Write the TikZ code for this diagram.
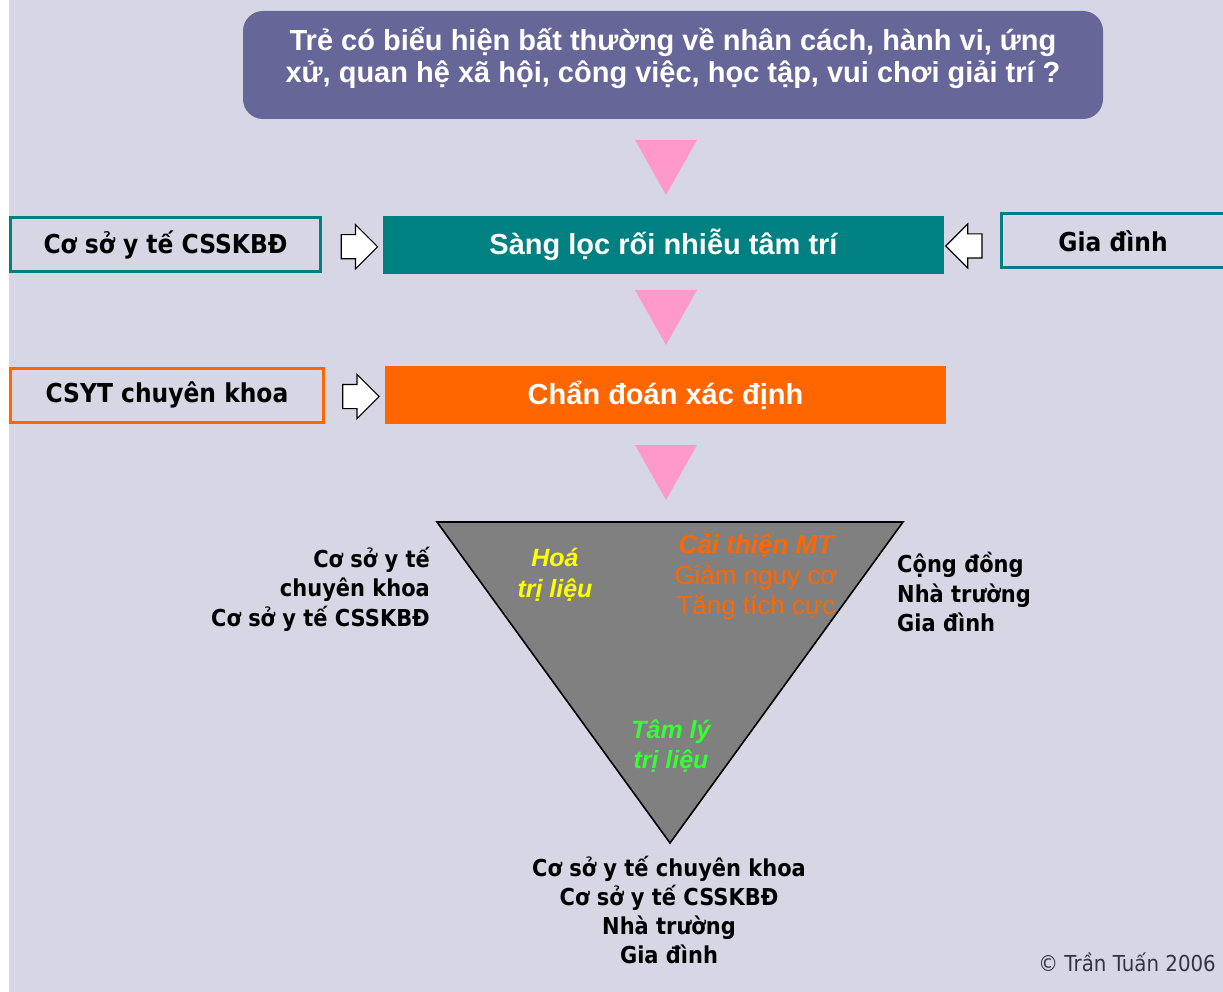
\documentclass[tikz,border=0pt]{standalone}
\usepackage{fontspec}
\setmainfont{Liberation Sans}
\newfontfamily\tah{DejaVu Sans}[FakeStretch=0.9]
\usetikzlibrary{shapes.arrows,calc}
\definecolor{bg}{HTML}{D6D6E4}
\definecolor{slate}{HTML}{666699}
\definecolor{tealc}{HTML}{008080}
\definecolor{orangec}{HTML}{FF6600}
\definecolor{pinkc}{HTML}{FF99CC}
\definecolor{grayc}{HTML}{808080}
\definecolor{yellowc}{HTML}{FFFF00}
\definecolor{greenc}{HTML}{33FF33}
\definecolor{copyc}{HTML}{333344}
\tikzset{
  topbox/.style={fill=slate, rounded corners=20pt, minimum width=860pt, minimum height=108pt, inner sep=0pt},
  toptext/.style={text=white, align=center, font=\bfseries\fontsize{29}{32}\selectfont},
  bar/.style={minimum width=561pt, minimum height=58pt, inner sep=0pt, text=white, font=\bfseries\fontsize{29}{32}\selectfont},
  sidebox/.style={line width=3pt, minimum height=54pt, inner sep=0pt, font=\tah\bfseries\fontsize{26}{30}\selectfont},
  harrow/.style={single arrow, draw=black, fill=white, line width=1.2pt, minimum height=33pt, inner sep=11.5pt, single arrow head extend=10pt, single arrow head indent=0pt},
  lbl/.style={font=\tah\bfseries\fontsize{23.3}{29.5}\selectfont, inner sep=0pt},
  intxt/.style={inner sep=0pt, align=center}
}
\begin{document}
\begin{tikzpicture}[x=1pt,y=-1pt]
\useasboundingbox (0,0) rectangle (1223,992);
\fill[white] (0,0) rectangle (9,992);
\fill[bg] (9,0) rectangle (1223,992);

% top question box
\node[topbox] (q) at (673,65) {};
\node[toptext] (qt) at (673,58) {Trẻ có biểu hiện bất thường về nhân cách, hành vi, ứng\\xử, quan hệ xã hội, công việc, học tập, vui chơi giải trí ?};

% screening row
\node[bar, fill=tealc] (s) at (663.5,245) {Sàng lọc rối nhiễu tâm trí};
\node[sidebox, draw=tealc, minimum width=310pt] (c1) at (165.5,244.5) {Cơ sở y tế CSSKBĐ};
\node[sidebox, draw=tealc, minimum width=224pt] (g1) at (1113,241) {Gia đình};
\node[harrow] (a1) at ($(c1.east)!0.5!(s.west)+(1,2)$) {};
\node[harrow, shape border rotate=180] (a2) at ($(s.east)!0.5!(g1.west)+(-2,3)$) {};

% diagnosis row
\node[bar, fill=orangec] (d) at (665.5,395) {Chẩn đoán xác định};
\node[sidebox, draw=orangec, minimum width=313pt] (c2) at (167,395) {CSYT chuyên khoa};
\node[harrow] (a3) at ($(c2.east)!0.5!(d.west)+(0,1.5)$) {};

% pink down triangles
\fill[pinkc] (635,140) -- (697,140) -- (666,195) -- cycle;
\fill[pinkc] (635,290) -- (697,290) -- (666,345) -- cycle;
\fill[pinkc] (635,445) -- (697,445) -- (666,500) -- cycle;

% big inverted triangle
\coordinate (tl) at (437,522);
\coordinate (tr) at (903,522);
\coordinate (tb) at (670,843);
\draw[line width=1.6pt, fill=grayc, line join=miter] (tl) -- (tr) -- (tb) -- cycle;

\node[intxt, text=yellowc, font=\bfseries\itshape\fontsize{25}{31}\selectfont] (hoa) at (555,575) {Hoá\\trị liệu};
\node[intxt, text=orangec, font=\fontsize{26}{30.5}\selectfont] (ct) at (756,577) {\bfseries\itshape Cải thiện MT\\Giảm nguy cơ\\Tăng tích cực};
\node[intxt, text=greenc, font=\bfseries\itshape\fontsize{25}{30}\selectfont] (tam) at (671,746) {Tâm lý\\trị liệu};

% side labels
\node[lbl, align=right, anchor=east] (lt) at (430,589) {Cơ sở y tế\\chuyên khoa\\Cơ sở y tế CSSKBĐ};
\node[lbl, align=left, anchor=west] (rt) at (897,592) {Cộng đồng\\Nhà trường\\Gia đình};
\node[lbl, align=center, font=\tah\bfseries\fontsize{23.3}{28.7}\selectfont] (bt) at (669,910) {Cơ sở y tế chuyên khoa\\Cơ sở y tế CSSKBĐ\\Nhà trường\\Gia đình};

% copyright
\node[inner sep=0pt, anchor=east, text=copyc, font=\tah\fontsize{22}{26}\selectfont] (cp) at (1216,962) {© Trần Tuấn 2006};
\end{tikzpicture}
\end{document}
